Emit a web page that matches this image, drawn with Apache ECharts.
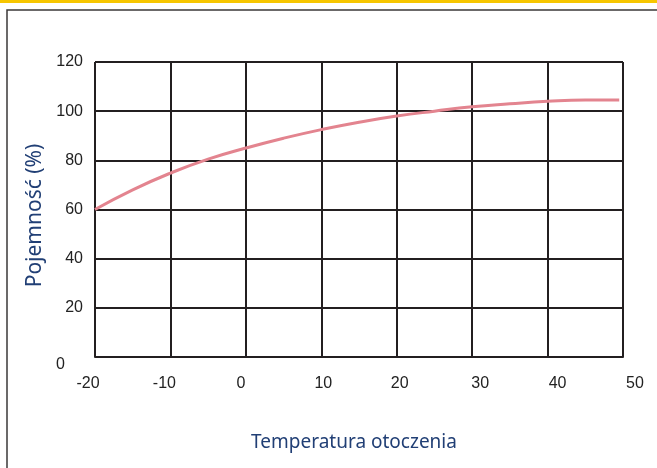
<!DOCTYPE html>
<html lang="pl">
<head>
<meta charset="UTF-8">
<title>Pojemność</title>
<script src="https://cdn.jsdelivr.net/npm/echarts@6.0.0/dist/echarts.min.js"></script>
<style>
  body { margin: 0; padding: 0; background: #fff; }
  #chart { width: 657px; height: 468px; }
</style>
</head>
<body>
<div id="chart"></div>
<script>
// temperatura (°C) i pojemność (%)
var temps = [-20, -15, -10, -5, 0, 5, 10, 15, 20, 25, 30, 35, 40, 45, 49.5];
var capacity = [60, 68, 74.8, 80.5, 85, 89, 92.5, 95.5, 98, 100, 101.8, 103, 104, 104.5, 104.5];
var xTicks = [-20, -10, 0, 10, 20, 30, 40, 50];
var yTicks = [0, 20, 40, 60, 80, 100, 120];

// small shifts of the tick labels, like in the original drawing
var xShift = { '-20': -7, '-10': -6, '0': -5, '10': 2, '20': 3, '30': 8, '40': 10, '50': 12 };

var xRich = {};
xTicks.forEach(function (t) {
  var d = xShift[String(t)] || 0;
  xRich['t' + (t < 0 ? 'm' + (-t) : t)] = {
    padding: d >= 0 ? [0, 0, 0, 2 * d] : [0, -2 * d, 0, 0]
  };
});

var navy = '#213f75';
var ink = '#231f20';

var chart = echarts.init(document.getElementById('chart'));
chart.setOption({
  animation: false,
  grid: { left: 95, right: 34, top: 62, bottom: 111 },
  graphic: [
    { type: 'rect', shape: { x: 0, y: 0, width: 657, height: 3 }, style: { fill: '#f7c600' } },
    { type: 'rect', shape: { x: 7, y: 10, width: 700, height: 520 }, style: { fill: 'none', stroke: '#3b3838', lineWidth: 1.5 } }
  ],
  xAxis: {
    type: 'value',
    min: -20, max: 50, interval: 10,
    name: 'Temperatura otoczenia',
    nameLocation: 'middle',
    nameGap: 76,
    nameTextStyle: { color: navy, fontFamily: 'Noto Sans', fontSize: 19, padding: [0, 10, 0, 0] },
    axisLine: { lineStyle: { color: ink, width: 2 } },
    axisTick: { show: false },
    splitLine: { lineStyle: { color: ink, width: 2 } },
    axisLabel: {
      margin: 19,
      color: '#222',
      fontFamily: 'Liberation Sans',
      fontSize: 16,
      formatter: function (v) {
        return '{t' + (v < 0 ? 'm' + (-v) : v) + '|' + v + '}';
      },
      rich: xRich
    }
  },
  yAxis: {
    type: 'value',
    min: 0, max: 120, interval: 20,
    name: 'Pojemność (%)',
    nameLocation: 'middle',
    nameGap: 42,
    nameTextStyle: { color: navy, fontFamily: 'Noto Sans', fontSize: 21, padding: [0, 12, 0, 0] },
    axisLine: { show: true, lineStyle: { color: ink, width: 2 } },
    axisTick: { show: false },
    splitLine: { lineStyle: { color: ink, width: 2 } },
    axisLabel: {
      margin: 12,
      color: '#222',
      fontFamily: 'Liberation Sans',
      fontSize: 16,
      formatter: function (v) {
        return v === yTicks[0] ? '{z|' + v + '}' : String(v);
      },
      rich: { z: { padding: [15, 18, 0, 0] } }
    }
  },
  series: [{
    type: 'line',
    smooth: true,
    showSymbol: false,
    lineStyle: { color: '#e3848f', width: 3 },
    data: temps.map(function (t, i) { return [t, capacity[i]]; })
  }]
});
</script>
</body>
</html>
